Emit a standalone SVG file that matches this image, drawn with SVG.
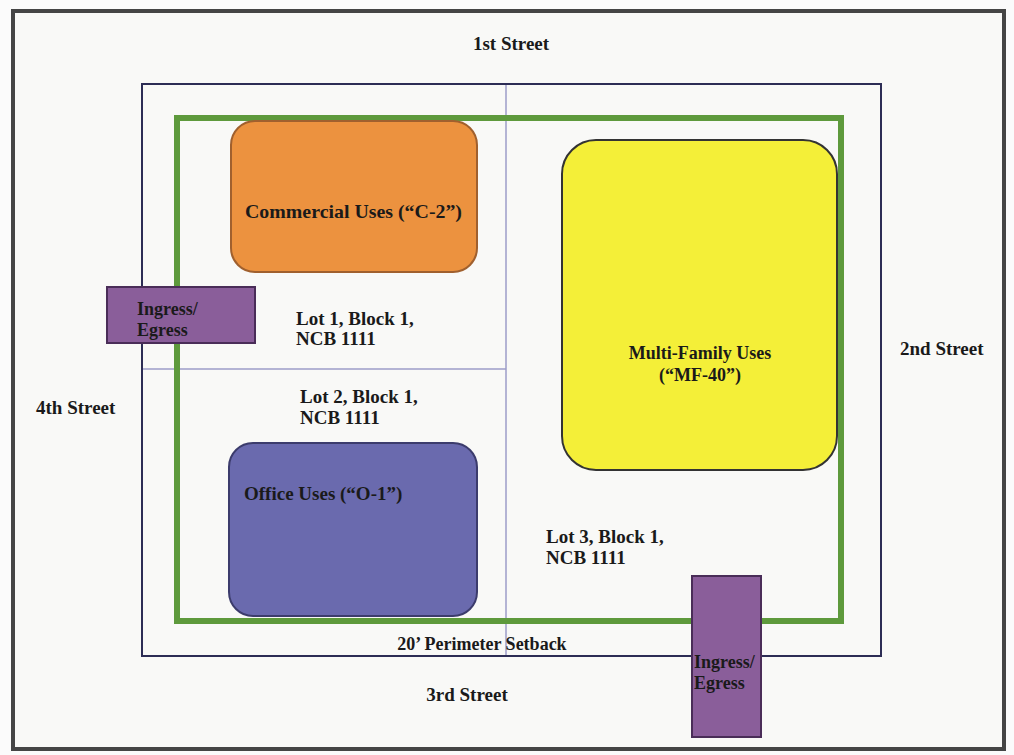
<svg xmlns="http://www.w3.org/2000/svg" width="1014" height="755" viewBox="0 0 1014 755">
<style>
text{font-family:"Liberation Serif","Tinos","DejaVu Serif",serif;font-weight:bold;font-size:19px;fill:#1a1a1a}
.sm{font-size:18px}
.lotdiv{stroke:#9c9cc8;stroke-width:1.5;fill:none}
.ie{fill:#8a5e9a;stroke:#4a2d58;stroke-width:2}
</style>
<rect x="0" y="0" width="1014" height="755" fill="#fbfbfb"/>
<rect id="frame" x="13" y="11" width="991" height="738" fill="#f9f9f7" stroke="#454545" stroke-width="4"/>
<g id="streets">
<text x="511" y="50" text-anchor="middle">1st Street</text>
<text x="900" y="355">2nd Street</text>
<text x="467" y="701" text-anchor="middle">3rd Street</text>
<text x="36" y="414">4th Street</text>
</g>
<g id="lot">
<rect x="142" y="84" width="739" height="572" fill="none" stroke="#2d2d55" stroke-width="2"/>
<line class="lotdiv" x1="506" y1="85" x2="506" y2="655"/>
<line class="lotdiv" x1="143" y1="369" x2="506" y2="369"/>
</g>
<g id="setback">
<rect x="177" y="118" width="664" height="503" fill="none" stroke="#5e9a3c" stroke-width="6"/>
</g>
<g id="commercial">
<rect x="231" y="121" width="246" height="151" rx="24" fill="#ec923f" stroke="#a0602e" stroke-width="2"/>
<text x="245" y="218" textLength="217" lengthAdjust="spacingAndGlyphs">Commercial Uses (“C-2”)</text>
</g>
<g id="multifamily">
<rect x="562" y="140" width="275" height="330" rx="34" fill="#f4ef38" stroke="#333333" stroke-width="2"/>
<text class="sm" x="700" y="359" text-anchor="middle">Multi-Family Uses</text>
<text class="sm" x="700" y="381" text-anchor="middle">(“MF-40”)</text>
</g>
<g id="office">
<rect x="229" y="443" width="248" height="173" rx="24" fill="#6a6aae" stroke="#3c3c6c" stroke-width="2"/>
<text x="244" y="500">Office Uses (“O-1”)</text>
</g>
<g id="lot1">
<text x="296" y="325">Lot 1, Block 1,</text>
<text x="296" y="345">NCB 1111</text>
</g>
<g id="lot2">
<text x="300" y="403">Lot 2, Block 1,</text>
<text x="300" y="424">NCB 1111</text>
</g>
<g id="lot3">
<text x="546" y="543">Lot 3, Block 1,</text>
<text x="546" y="564">NCB 1111</text>
</g>
<g id="setback-label">
<text class="sm" x="482" y="650" text-anchor="middle">20’ Perimeter Setback</text>
</g>
<g id="ingress-left">
<rect class="ie" x="107" y="287" width="148" height="56"/>
<text class="sm" x="137" y="315">Ingress/</text>
<text class="sm" x="137" y="336">Egress</text>
</g>
<g id="ingress-bottom">
<rect class="ie" x="692" y="576" width="69" height="161"/>
<text class="sm" x="694" y="668">Ingress/</text>
<text class="sm" x="694" y="689">Egress</text>
</g>
</svg>
